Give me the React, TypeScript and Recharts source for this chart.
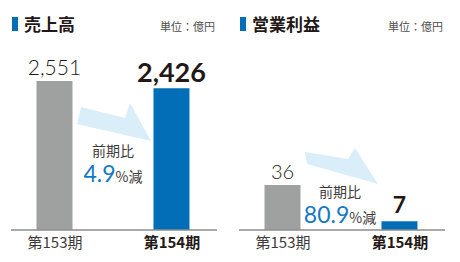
import { BarChart, Bar, XAxis, YAxis, Cell, LabelList, Customized } from "recharts";

const periods = ["第153期", "第154期"];
const salesValues = [2551, 2426];
const profitValues = [36, 7];
const salesChange = "4.9";
const profitChange = "80.9";

const GRAY = "#9fa0a0";
const BLUE = "#036eb8";
const TEXT_BLUE = "#1479c3";
const ARROW = "#d9eef9";
const INK = "#231815";
const JP = '"Noto Sans CJK JP", "Noto Sans", sans-serif';
const NUM = 'Lato, "Noto Sans", sans-serif';

type PanelProps = {
  title: string;
  values: number[];
  change: string;
  yMax: number;
  arrow: string;
  noteX: number;
  noteY: number;
  sizes: [number, number];
  gaps: [number, number];
};

function Panel({ title, values, change, yMax, arrow, noteX, noteY, sizes, gaps }: PanelProps) {
  const data = periods.map((p, i) => ({ idx: i, period: p, value: values[i] }));

  const renderTick = (props: any) => {
    const { x, payload } = props;
    const i = payload.value;
    return (
      <text
        x={x}
        y={248}
        textAnchor="middle"
        fontFamily={JP}
        fontSize={15}
        fontWeight={i === 1 ? 700 : 400}
        fill={i === 1 ? INK : "#3e3a39"}
      >
        {periods[i]}
      </text>
    );
  };

  const renderValue = (props: any) => {
    const { x, y, width, index } = props;
    const latest = index === 1;
    return (
      <text
        x={x + width / 2}
        y={y - gaps[index]}
        textAnchor="middle"
        fontFamily={NUM}
        fontSize={sizes[index]}
        fontWeight={latest ? 700 : 300}
        fill={INK}
      >
        {values[index].toLocaleString("en-US")}
      </text>
    );
  };

  // arrow, title block and the year-on-year note
  const Decor = () => (
    <g>
      <polygon points={arrow} fill={ARROW} />
      <rect x={12} y={17} width={6} height={14} fill={BLUE} />
      <text x={24} y={31} fontFamily={JP} fontSize={17} fontWeight={700} fill={INK}>
        {title}
      </text>
      <text x={160} y={31} fontFamily={JP} fontSize={11} fill="#4d4d4d">
        単位：億円
      </text>
      <text x={noteX} y={noteY} textAnchor="middle" fontFamily={JP} fontSize={14} fill="#3e3a39">
        前期比
      </text>
      <text x={noteX} y={noteY + 26} textAnchor="middle" fill={TEXT_BLUE}>
        <tspan fontFamily={NUM} fontSize={23} fontWeight={400}>
          {change}
        </tspan>
        <tspan fontFamily={JP} fontSize={14} fill="#3e3a39">
          %減
        </tspan>
      </text>
    </g>
  );

  return (
    <BarChart
      width={230}
      height={262}
      data={data}
      margin={{ top: 60, right: 13, bottom: 0, left: 11 }}
    >
      <Customized component={Decor} />
      <XAxis
        type="number"
        dataKey="idx"
        domain={[-0.376, 1.385]}
        ticks={[0, 1]}
        allowDataOverflow
        interval={0}
        height={32}
        tickLine={false}
        axisLine={{ stroke: "#8c8c8c", strokeWidth: 1.5 }}
        tick={renderTick}
      />
      <YAxis hide type="number" domain={[0, yMax]} />
      <Bar dataKey="value" barSize={36} isAnimationActive={false}>
        {data.map((d) => (
          <Cell key={d.period} fill={d.idx === 1 ? BLUE : GRAY} />
        ))}
        <LabelList dataKey="value" content={renderValue} />
      </Bar>
    </BarChart>
  );
}

export default function App() {
  return (
    <div
      style={{
        position: "absolute",
        left: 0,
        top: 0,
        width: 460,
        height: 262,
        background: "#fff",
      }}
    >
      <div style={{ position: "absolute", left: 0, top: 0 }}>
        <Panel
          title="売上高"
          values={salesValues}
          change={salesChange}
          yMax={2910}
          arrow="81,107 125,118 130,103 151,141 77,124"
          noteX={113}
          noteY={156}
          sizes={[21, 27]}
          gaps={[6, 6]}
        />
      </div>
      <div style={{ position: "absolute", left: 228, top: 0 }}>
        <Panel
          title="営業利益"
          values={profitValues}
          change={profitChange}
          yMax={136}
          arrow="77,152 120,159 127,148 150,184 79,164"
          noteX={112}
          noteY={197}
          sizes={[20, 23]}
          gaps={[6, 8]}
        />
      </div>
    </div>
  );
}
